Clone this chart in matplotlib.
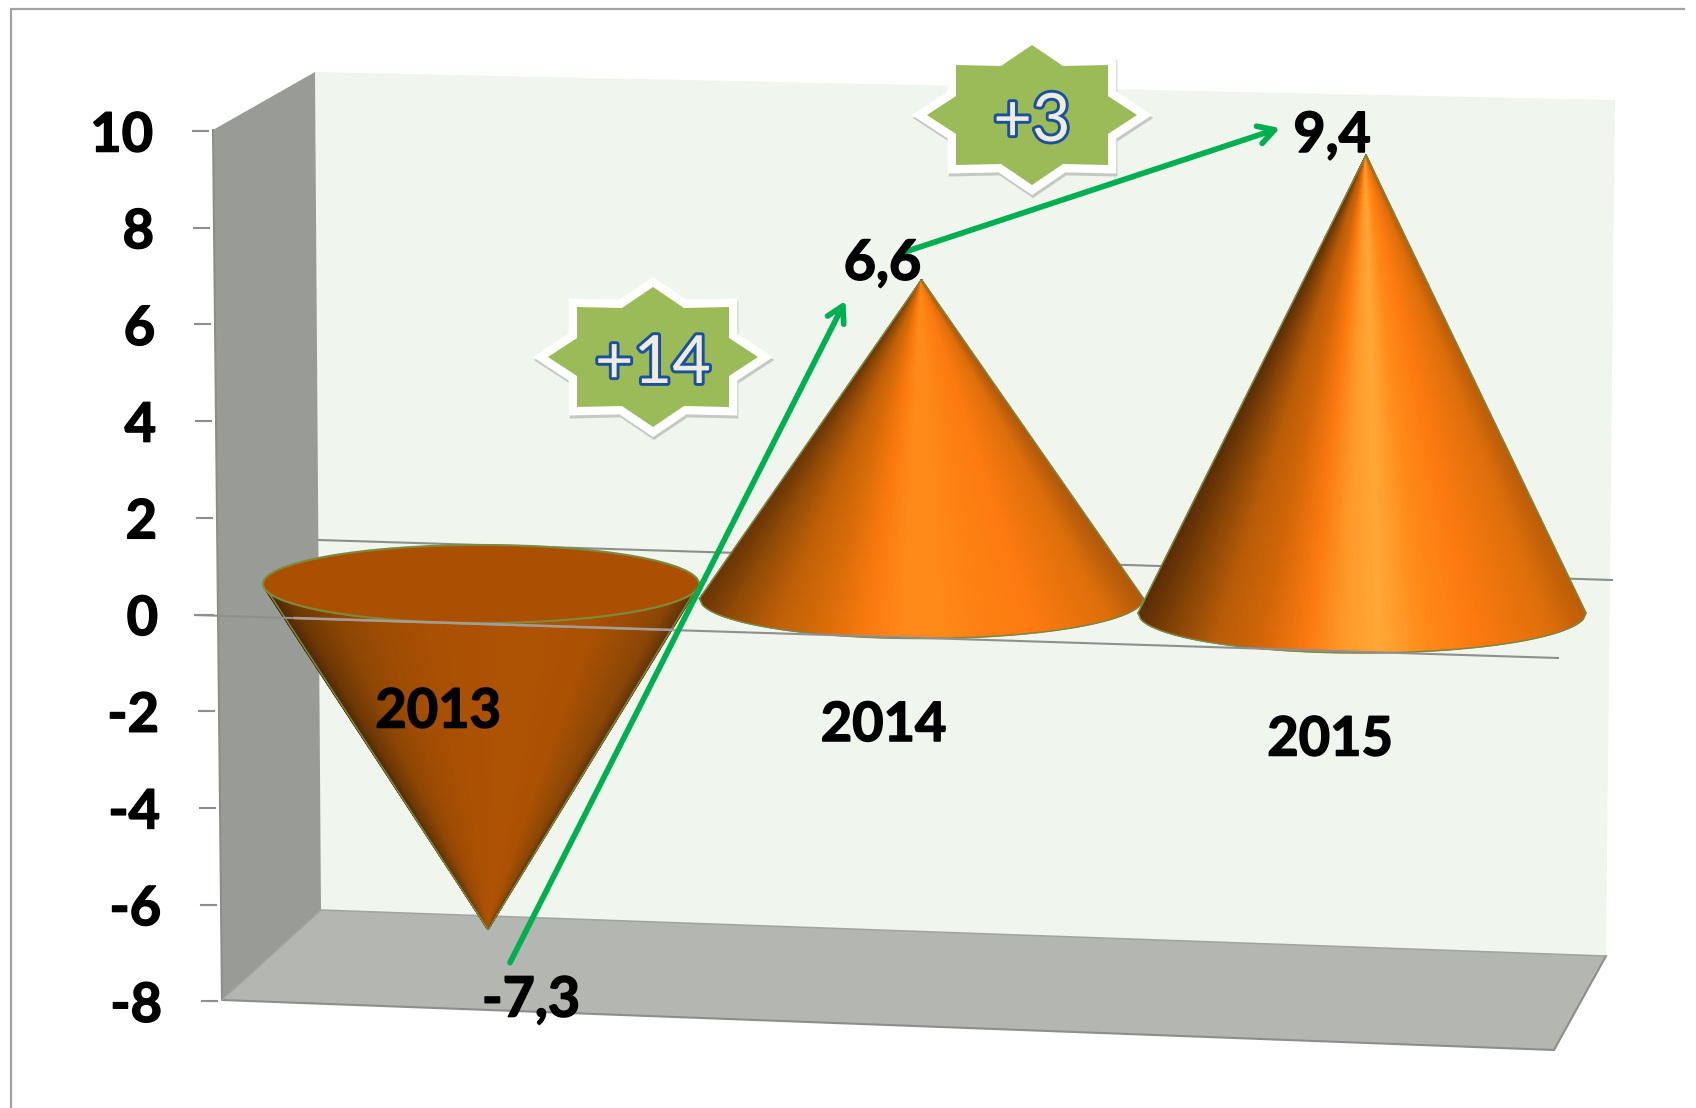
import numpy as np
import matplotlib
matplotlib.use("Agg")
import matplotlib.pyplot as plt
import matplotlib.patheffects as pe
from matplotlib.colors import LinearSegmentedColormap
from matplotlib.patches import Polygon, Ellipse
from matplotlib.transforms import Affine2D

categories = ["2013", "2014", "2015"]
values = [-7.3, 6.6, 9.4]
value_labels = ["-7,3", "6,6", "9,4"]
tick_values = [10, 8, 6, 4, 2, 0, -2, -4, -6, -8]
change_labels = ["+14", "+3"]

plt.rcParams["font.family"] = ["Lato", "DejaVu Sans"]

W, H = 1696, 1108
fig = plt.figure(figsize=(W / 100, H / 100), dpi=100)
ax = fig.add_axes([0, 0, 1, 1])
ax.set_xlim(0, W)
ax.set_ylim(H, 0)
ax.axis("off")

# (category index, value) -> picture, one for the front plane, one for mid depth
front = Affine2D.from_values(0, 0, -0.5, -48.35, 218, 614.5)
middle = Affine2D.from_values(440.5, 14.5, 0, -48.3, 481, 584)

GRAY = "#8c8e8c"
HEAVY = [pe.withStroke(linewidth=1.1, foreground="black")]
ax.plot([11, 11, 1684], [H, 9, 9], color="#a3a3a3", lw=1.6, solid_joinstyle="miter")

# walls of the 3D box
ax.add_patch(Polygon([(315, 72), (1615, 100), (1606, 956), (321, 910)], fc="#f0f5ee", ec="none"))
ax.add_patch(Polygon([(213, 130), (315, 72), (321, 910), (222, 1000)], fc="#999b97", ec="none"))
ax.add_patch(Polygon([(222, 1000), (321, 910), (1606, 956), (1554, 1050)], fc="#b4b6b1", ec="none"))
ax.plot([213, 222, 1554, 1606], [130, 1000, 1050, 956], color=GRAY, lw=1.5)
ax.plot([222, 321, 1606], [1000, 910, 956], color="#a2a4a0", lw=1.1)
ax.plot([319, 1612], [540, 580], color=GRAY, lw=1.5)

# ticks and tick labels
for v in tick_values:
    x, y = front.transform((0, v))
    ax.plot([x - 20, x - 5], [y, y], color=GRAY, lw=1.5)
    ax.text(x - 60, y + 5, str(v), ha="right", va="center", fontsize=39, fontweight="bold",
            color="black", path_effects=HEAVY)

# cone shading across the width, dark at the rim
stops = [0.0, 0.06, 0.17, 0.27, 0.375, 0.46, 0.54, 0.645, 0.76, 0.93, 1.0]
cmaps = [
    ["#452304", "#6b3705", "#8f4705", "#a04c04", "#a85004", "#ab5104", "#ae5204", "#ae5204", "#ab5104", "#8a4606", "#5a3008"],
    ["#6c3606", "#8e4a07", "#c06008", "#d86c08", "#fb7a0f", "#ff8a1a", "#ff8a1a", "#fd8012", "#fd7a10", "#dd6e0a", "#b35a0a"],
    ["#5c2e06", "#7e4006", "#b85c08", "#d26608", "#fb7a10", "#ff9a2a", "#ffa838", "#ff8a18", "#fd7a10", "#dd6e0a", "#bd5e08"],
]
leans = [(7, -7), (0, 0), (4, -4)]
half_w = [218, 222, 224]
half_h = [39, 40, 40]

apex = []
for i, v in enumerate(values):
    cx, cy = middle.transform((i, 0))
    tip = middle.transform((i, v)) + np.array(leans[i])
    apex.append(tip)
    u = np.linspace(-1, 1, 161)
    t = np.linspace(0, 1, 40)
    U, T = np.meshgrid(u, t)
    bx = cx + U * half_w[i]
    by = cy + half_h[i] * np.sqrt(1 - U ** 2)
    X = tip[0] + T * (bx - tip[0])
    Y = tip[1] + T * (by - tip[1])
    cm = LinearSegmentedColormap.from_list(f"cone{i}", list(zip(stops, cmaps[i])))
    ax.pcolormesh(X, Y, U, shading="gouraud", cmap=cm, vmin=-1, vmax=1, zorder=3 + i * 0.1)
    ax.plot(np.r_[bx[0], tip[0], bx[0][0]], np.r_[by[0], tip[1], by[0][0]], color="#7d8740", lw=1.1,
            zorder=3.05 + i * 0.1)
    if v < 0:
        ax.add_patch(Ellipse((cx, cy), 2 * half_w[i], 2 * half_h[i], fc="#ab5003", ec="#7d8a3a",
                             lw=1.5, zorder=3.06))

# zero line in front of the box, lighter where it crosses the first cone
ax.plot([195, 1558], [615, 658], color="#8f8f8f", lw=1.5, zorder=4)
ax.plot([295, 675], [618, 630], color="#a89c92", lw=1.8, zorder=4.1)

# labels
for i, (name, offset) in enumerate(zip(categories, [(-43, 127), (-38, 126), (-32, 126)])):
    x, y = middle.transform((i, 0))
    ax.text(x + offset[0], y + offset[1] + 1, name, ha="center", va="center", fontsize=39,
            fontweight="bold", color="black", zorder=6, path_effects=HEAVY)

for i, (lab, offset) in enumerate(zip(value_labels, [(43, 71), (-39, -16), (-34, -19)])):
    ax.text(apex[i][0] + offset[0], apex[i][1] + offset[1], lab, ha="center", va="center",
            fontsize=40, fontweight="bold", color="black", zorder=6, path_effects=HEAVY)


def arrow(start, end):
    ax.annotate("", xy=end, xytext=start, zorder=5,
                arrowprops=dict(arrowstyle="->,head_length=1.15,head_width=0.65", color="#00b050",
                                lw=4.1, shrinkA=0, shrinkB=0))


arrow(apex[0] + (22, 33), apex[1] + (-76, 21))
arrow(apex[1] + (-16, -28), apex[2] + (-86, -27))

# eight point stars with the change between the years
star_x = np.array([0, 31, 76, 76, 105, 76, 76, 31, 0, -31, -76, -76, -105, -76, -76, -31])
star_y = np.array([-70, -49, -50, -19, 0, 19, 50, 49, 70, 49, 50, 19, 0, -19, -50, -49])

for lab, (sx, sy) in zip(change_labels, [(653, 357), (1032, 115)]):
    pts = np.c_[star_x + sx, star_y + sy]
    ax.add_patch(Polygon(pts + (1, 3), fc="#777777", ec="#777777", lw=12, alpha=0.35, zorder=7,
                         joinstyle="miter"))
    ax.add_patch(Polygon(pts, fc="white", ec="white", lw=12, zorder=7.1, joinstyle="miter"))
    ax.add_patch(Polygon(pts, fc="#9bbb59", ec="none", zorder=7.2))
    ax.text(sx, sy + 7, lab, ha="center", va="center", fontsize=48, color="#eeece1", zorder=8,
            path_effects=[pe.withStroke(linewidth=4.2, foreground="#1c4f9c")])

fig.savefig("out.png", dpi=100, facecolor="white")
